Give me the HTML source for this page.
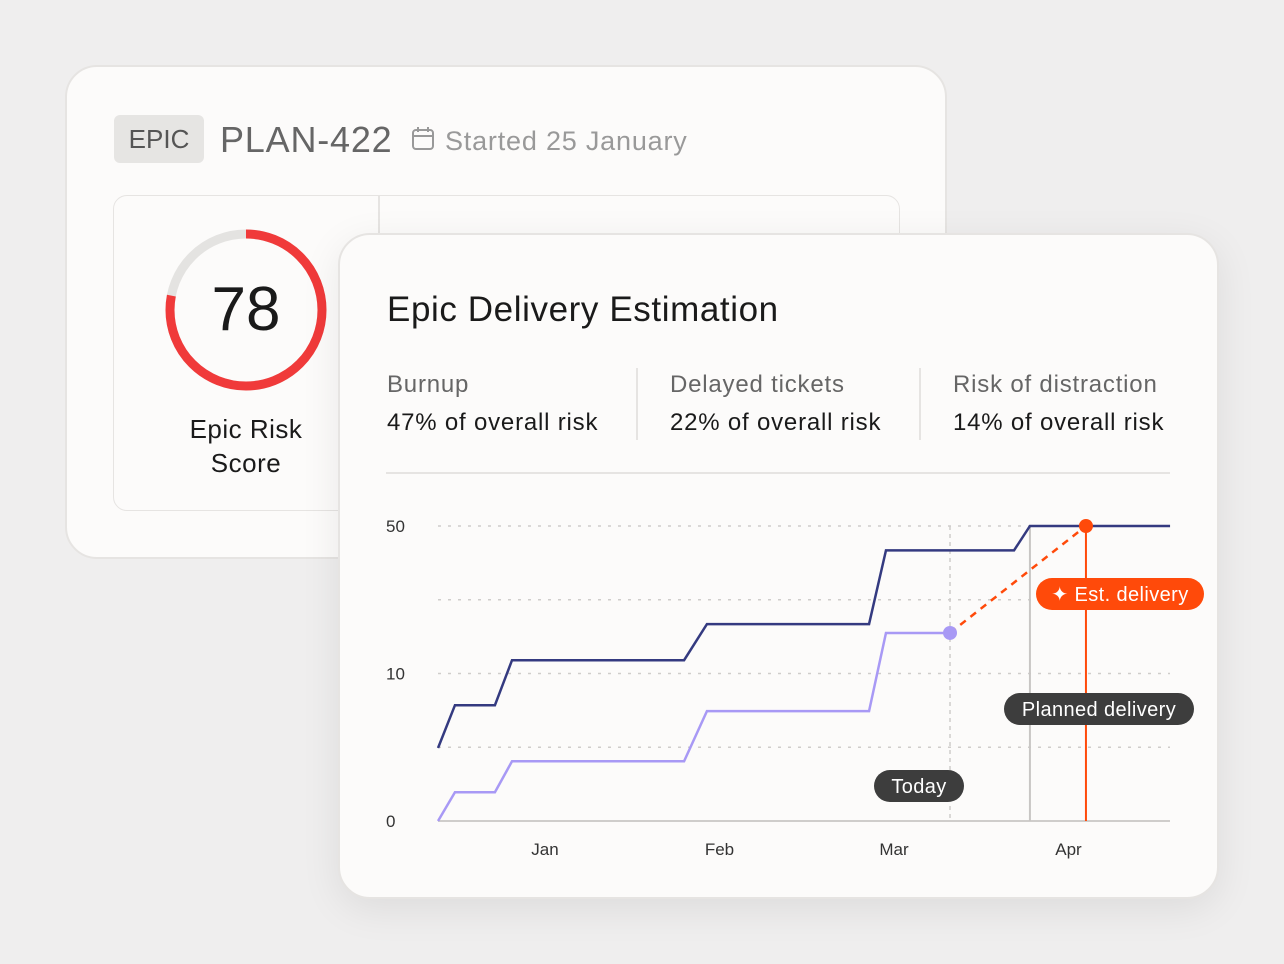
<!DOCTYPE html>
<html><head><meta charset="utf-8"><style>
body{margin:0;width:1284px;height:964px;background:#efeeee;font-family:"Liberation Sans",sans-serif;position:relative;overflow:hidden}
.card{position:absolute;background:#fcfbfa;border:2px solid #e6e4e2;box-sizing:border-box}
.t{position:absolute;white-space:nowrap}
</style></head><body>
<div class="card" style="left:65px;top:65px;width:882px;height:494px;border-radius:32px"></div>
<div class="t" style="left:114px;top:115px;width:90px;height:48px;background:#e6e5e3;border-radius:6px;font-size:26px;color:#555;line-height:48px;text-align:center">EPIC</div>
<div class="t" style="left:220px;top:118px;font-size:36px;letter-spacing:0.8px;color:#666;line-height:44px">PLAN-422</div>
<svg class="t" style="left:411px;top:126px" width="24" height="26"><rect x="2" y="4" width="20" height="19" rx="3" fill="none" stroke="#999" stroke-width="2"/><line x1="2" y1="10" x2="22" y2="10" stroke="#999" stroke-width="2"/><line x1="7" y1="1" x2="7" y2="6" stroke="#999" stroke-width="2"/><line x1="17" y1="1" x2="17" y2="6" stroke="#999" stroke-width="2"/></svg>
<div class="t" style="left:445px;top:124px;font-size:27px;letter-spacing:0.8px;color:#999;line-height:34px">Started 25 January</div>
<div class="card" style="left:113px;top:195px;width:787px;height:316px;border-radius:14px;border-width:1.5px"></div>
<div class="t" style="left:378px;top:196px;width:1.5px;height:40px;background:#e6e4e2"></div>
<svg class="t" style="left:160px;top:224px" width="172" height="172">
<circle cx="86" cy="86" r="76" fill="none" stroke="#e4e3e1" stroke-width="9"/>
<circle cx="86" cy="86" r="76" fill="none" stroke="#f03a3a" stroke-width="9" stroke-dasharray="372.5 477.5" transform="rotate(-90 86 86)"/>
</svg>
<div class="t" style="left:166px;top:276px;width:160px;text-align:center;font-size:62px;color:#1a1a1a;line-height:68px">78</div>
<div class="t" style="left:146px;top:412px;width:200px;text-align:center;font-size:26px;letter-spacing:0.5px;color:#1a1a1a;line-height:34px;white-space:normal">Epic Risk<br>Score</div>

<div class="card" style="left:338px;top:233px;width:881px;height:666px;border-radius:32px;box-shadow:0 10px 40px rgba(0,0,0,.08)"></div>
<div class="t" style="left:387px;top:288px;font-size:35px;letter-spacing:0.6px;color:#1a1a1a;line-height:44px">Epic Delivery Estimation</div>
<div class="t" style="left:387px;top:370px;font-size:24px;letter-spacing:0.8px;line-height:30px;color:#666">Burnup<br><span style="color:#1a1a1a;line-height:46px">47% of overall risk</span></div>
<div class="t" style="left:636px;top:368px;width:1.5px;height:72px;background:#e6e4e2"></div>
<div class="t" style="left:670px;top:370px;font-size:24px;letter-spacing:0.8px;line-height:30px;color:#666">Delayed tickets<br><span style="color:#1a1a1a;line-height:46px">22% of overall risk</span></div>
<div class="t" style="left:919px;top:368px;width:1.5px;height:72px;background:#e6e4e2"></div>
<div class="t" style="left:953px;top:370px;font-size:24px;letter-spacing:0.8px;line-height:30px;color:#666">Risk of distraction<br><span style="color:#1a1a1a;line-height:46px">14% of overall risk</span></div>
<div class="t" style="left:386px;top:472px;width:784px;height:2px;background:#e6e4e2"></div>

<svg id="chart" style="position:absolute;left:0;top:0" width="1284" height="964"></svg>
<script>
const months=["Jan","Feb","Mar","Apr"];
const yTickVals=[0,2,4];
const yTickLabels=["0","10","50"];
const gridVals=[1,2,3,4];
const scopeX=[-0.613,-0.516,-0.287,-0.189,0.797,0.928,1.857,1.954,2.688,2.779,3.582];
const scopeY=[0.99,1.57,1.57,2.18,2.18,2.67,2.67,3.67,3.67,4,4];
const doneX=[-0.613,-0.516,-0.287,-0.189,0.797,0.928,1.857,1.954,2.321];
const doneY=[0,0.39,0.39,0.81,0.81,1.49,1.49,2.55,2.55];
const todayX=2.321, plannedX=2.779, estX=3.1, estY=4;
const X=m=>545+m*174.5, Y=v=>821-v*73.75;
const svg=document.getElementById('chart'),NS='http://www.w3.org/2000/svg';
function mk(tag,attrs,name){const e=document.createElementNS(NS,tag);for(const k in attrs)e.setAttribute(k,attrs[k]);


svg.appendChild(e);return e;}
const x0=438,x1=1170;
gridVals.forEach(v=>mk('line',{x1:x0,x2:x1,y1:Y(v),y2:Y(v),stroke:'#cfcdcb','stroke-width':1.5,'stroke-dasharray':'3 7'},'grid-line'));
mk('line',{x1:x0,x2:x1,y1:Y(0),y2:Y(0),stroke:'#cfcdcb','stroke-width':2},'x-axis');
yTickVals.forEach((v,i)=>{const t=mk('text',{x:386,y:Y(v)+6,'font-size':17,fill:'#333'},'y-tick-label');t.textContent=yTickLabels[i];});
months.forEach((m,i)=>{const t=mk('text',{x:X(i),y:855,'font-size':17,fill:'#333','text-anchor':'middle'},'x-tick-label');t.textContent=m;});
mk('line',{x1:X(todayX),x2:X(todayX),y1:Y(4),y2:Y(0),stroke:'#cfcdcb','stroke-width':1.5,'stroke-dasharray':'4 4'},'today-line');
mk('line',{x1:X(plannedX),x2:X(plannedX),y1:Y(4),y2:Y(0),stroke:'#c8c6c4','stroke-width':2},'planned-line');
mk('line',{x1:X(estX),x2:X(estX),y1:Y(estY),y2:Y(0),stroke:'#ff4a0a','stroke-width':2},'est-line');
const pts=(xs,ys)=>xs.map((x,i)=>X(x)+','+Y(ys[i])).join(' ');
mk('polyline',{points:pts(scopeX,scopeY),fill:'none',stroke:'#343a80','stroke-width':2.5},'scope-line');
mk('polyline',{points:pts(doneX,doneY),fill:'none',stroke:'#a899f5','stroke-width':2.5},'completed-line');
const lx=doneX[doneX.length-1],ly=doneY[doneY.length-1];
mk('line',{x1:X(lx),y1:Y(ly),x2:X(estX),y2:Y(estY),stroke:'#ff4a0a','stroke-width':2.5,'stroke-dasharray':'7 6'},'projection-line');
mk('circle',{cx:X(lx),cy:Y(ly),r:7,fill:'#a899f5'},'today-point');
mk('circle',{cx:X(estX),cy:Y(estY),r:7,fill:'#ff4a0a'},'est-point');
function pill(cx,cy,w,text,fill,name){mk('rect',{x:cx-w/2,y:cy-16,width:w,height:32,rx:16,fill:fill},name);
const t=mk('text',{x:cx,y:cy+7,'font-size':20,'letter-spacing':0.4,fill:'#fff','text-anchor':'middle'},name+'-text');t.textContent=text;}
pill(919,786,90,'Today','#3d3d3d','today-label');
pill(1099,709,190,'Planned delivery','#3d3d3d','planned-label');
pill(1120,594,168,'✦ Est. delivery','#ff4a0a','est-label');
</script>
</body></html>
